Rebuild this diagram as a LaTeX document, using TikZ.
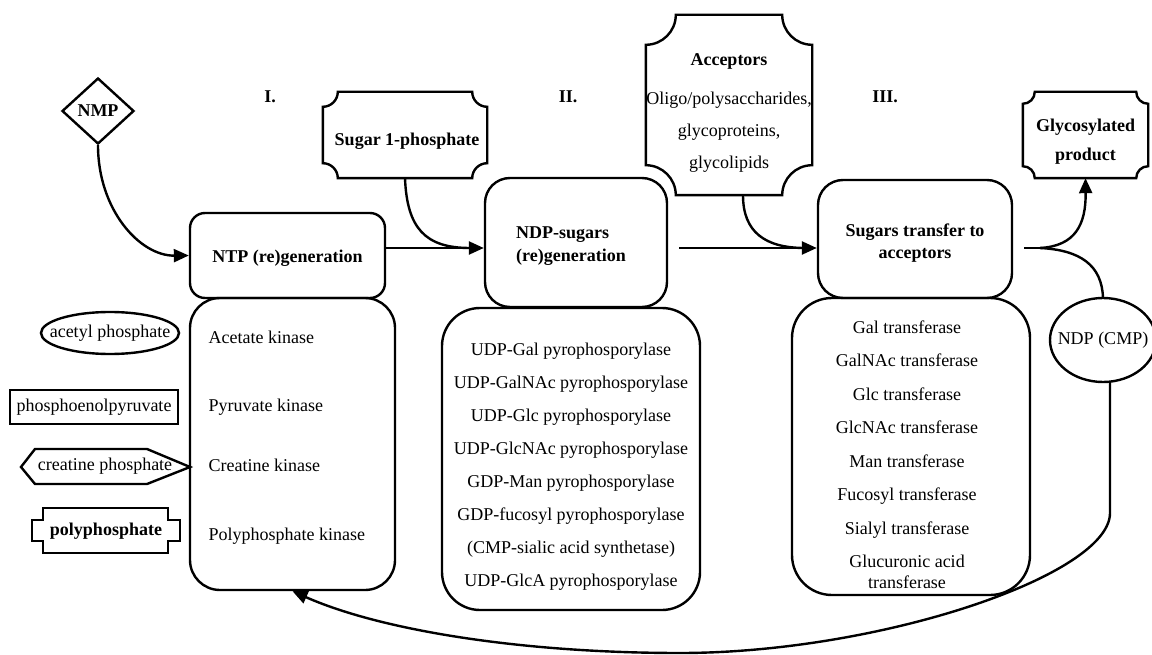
\documentclass[tikz,border=0pt]{standalone}
\usepackage{fontspec}
\setmainfont{Liberation Serif}
\usetikzlibrary{arrows.meta,shapes.geometric}
\newcommand\concaveoutline[2]{%
  \draw[line width=2.4pt]
    ([xshift=#2]#1.north west) -- ([xshift=-#2]#1.north east)
    arc[start angle=180,end angle=270,radius=#2]
    -- ([yshift=#2]#1.south east)
    arc[start angle=90,end angle=180,radius=#2]
    -- ([xshift=#2]#1.south west)
    arc[start angle=0,end angle=90,radius=#2]
    -- ([yshift=-#2]#1.north west)
    arc[start angle=270,end angle=360,radius=#2] -- cycle;}
\begin{document}
\begin{tikzpicture}[x=1pt,y=1pt,
  txt/.style={font=\fontsize{18}{21}\selectfont},
  bfont/.style={font=\fontsize{18}{22}\selectfont\bfseries},
  rbox/.style={draw, line width=2.4pt, rounded corners=#1, inner sep=0pt},
  cbox/.style={inner sep=0pt},
  conn/.style={line width=2.4pt},
  arr/.style={line width=2.4pt, -{Triangle[length=15pt,width=13pt]}},
  shapeline/.style={line width=2.4pt}]
\useasboundingbox (0,0) rectangle (1152,-655);

% roman numerals
\node[bfont] (r1) at (270,-97) {I.};
\node[bfont] (r2) at (568,-97) {II.};
\node[bfont] (r3) at (885,-97) {III.};

% top inputs
\node[diamond, draw, line width=2.4pt, minimum width=72pt, minimum height=66pt, inner sep=0pt, bfont] (nmp) at (98,-111) {NMP};
\node[cbox, minimum width=164pt, minimum height=86pt] (sugar) at (405,-135) {};
\concaveoutline{sugar}{15pt}
\node[bfont] (sugartxt) at (407,-141) {Sugar 1-phosphate};
\node[cbox, minimum width=166pt, minimum height=180pt] (acc) at (729,-105) {};
\concaveoutline{acc}{30pt}
\node[align=center, font=\fontsize{18}{32}\selectfont] (acctxt) at (729,-113)
  {\textbf{Acceptors}\\[7pt]Oligo/polysaccharides,\\glycoproteins,\\glycolipids};
\node[cbox, minimum width=125pt, minimum height=86pt] (glyc) at (1085.5,-135) {};
\concaveoutline{glyc}{12pt}
\node[align=center, font=\fontsize{18}{29}\selectfont\bfseries] (glyctxt) at (1085.5,-142) {Glycosylated\\product};

% main steps
\node[rbox=15pt, minimum width=195pt, minimum height=85pt] (ntp) at (287.5,-255.5) {};
\node[bfont] (ntptxt) at (287.5,-258) {NTP (re)generation};
\node[rbox=25pt, minimum width=182pt, minimum height=129pt] (ndp) at (576,-242.5) {};
\node[align=left, font=\fontsize{18}{23}\selectfont\bfseries] (ndptxt) at (571,-246) {NDP-sugars\\(re)generation};
\node[rbox=25pt, minimum width=194pt, minimum height=118pt] (st) at (915,-239) {};
\node[align=center, font=\fontsize{18}{22}\selectfont\bfseries] (sttxt) at (915,-243) {Sugars transfer to\\acceptors};

% enzyme boxes
\node[rbox=30pt, minimum width=205pt, minimum height=292pt] (enz1) at (292.5,-444) {};
\node[txt, anchor=west] (e1a) at (205,-337) {Acetate kinase};
\node[txt, anchor=west] (e1b) at (205,-407) {Pyruvate kinase};
\node[txt, anchor=west] (e1c) at (205,-465) {Creatine kinase};
\node[txt, anchor=west] (e1d) at (205,-536) {Polyphosphate kinase};

\node[rbox=38pt, minimum width=258pt, minimum height=302pt] (enz2) at (571,-459) {};
\node[align=center, font=\fontsize{18}{33}\selectfont] (enz2txt) at (571,-467)
  {UDP-Gal pyrophosporylase\\UDP-GalNAc pyrophosporylase\\UDP-Glc pyrophosporylase\\UDP-GlcNAc pyrophosporylase\\GDP-Man pyrophosporylase\\GDP-fucosyl pyrophosporylase\\(CMP-sialic acid synthetase)\\UDP-GlcA pyrophosporylase};

\node[rbox=40pt, minimum width=238pt, minimum height=297pt] (enz3) at (911,-446.5) {};
\node[align=center, font=\fontsize{18}{33.5}\selectfont] (enz3txt) at (907,-454.5)
  {Gal transferase\\GalNAc transferase\\Glc transferase\\GlcNAc transferase\\Man transferase\\Fucosyl transferase\\Sialyl transferase\\Glucuronic acid\\[-13pt]transferase};

% phosphate donors
\node[txt] (acetyl) at (110,-333) {acetyl phosphate};
\draw[shapeline] (acetyl.center) ellipse [x radius=69, y radius=21];
\node[draw, rectangle, line width=2.4pt, minimum width=168pt, minimum height=34pt, inner sep=0pt, txt] (pep) at (94,-407) {phosphoenolpyruvate};
\node[txt] (creat) at (105,-466) {creatine phosphate};
\draw[shapeline] (21,-467) -- (35,-449) -- (147,-449) -- (190,-467) -- (147,-484) -- (35,-484) -- cycle;
\node[bfont] (polyp) at (106,-531) {polyphosphate};
\draw[line width=2.8pt] (43,-508) -- (168,-508) -- (168,-520) -- (180,-520) -- (180,-541) -- (168,-541) -- (168,-553) -- (43,-553) -- (43,-541) -- (32,-541) -- (32,-520) -- (43,-520) -- cycle;

% by-product
\node[txt] (cmp) at (1103,-340) {NDP (CMP)};
\draw[shapeline] (cmp.center) ellipse [x radius=53, y radius=42];
\coordinate (cmpN) at (1103,-298);
\coordinate (cmpS) at (1110,-381.5);

% connectors
\draw[arr] (nmp.south) .. controls (98,-210) and (140,-256) .. (ntp.west);
\coordinate (a1) at ([yshift=7.5pt]ntp.east);
\draw[arr] (a1) -- (a1 -| ndp.west);
\coordinate (m1) at (470,-248);
\draw[conn] (sugar.south) .. controls (407,-228) and (425,-248) .. (m1);

\path (ndp.east) ++(11,-5.5) coordinate (a2);
\draw[arr] (a2) -- (a2 -| st.west);
\coordinate (m2) at (805,-248);
\draw[conn] ([xshift=14pt]acc.south) .. controls (743,-232) and (765,-248) .. (m2);

\path (st.east) ++(11,-9) coordinate (a3);
\coordinate (j) at (1040,-248);
\draw[conn] (a3) -- (j);
\draw[arr] (j) .. controls (1075,-246) and (1086,-225) .. (glyc.south);
\draw[conn] (j) .. controls (1080,-250) and (1102,-265) .. (cmpN);

\draw[arr] (cmpS) -- (1110,-513) .. controls (1110,-575) and (880,-653) .. (680,-653)
  .. controls (520,-653) and (380,-630) .. (enz1.south);
\end{tikzpicture}
\end{document}
